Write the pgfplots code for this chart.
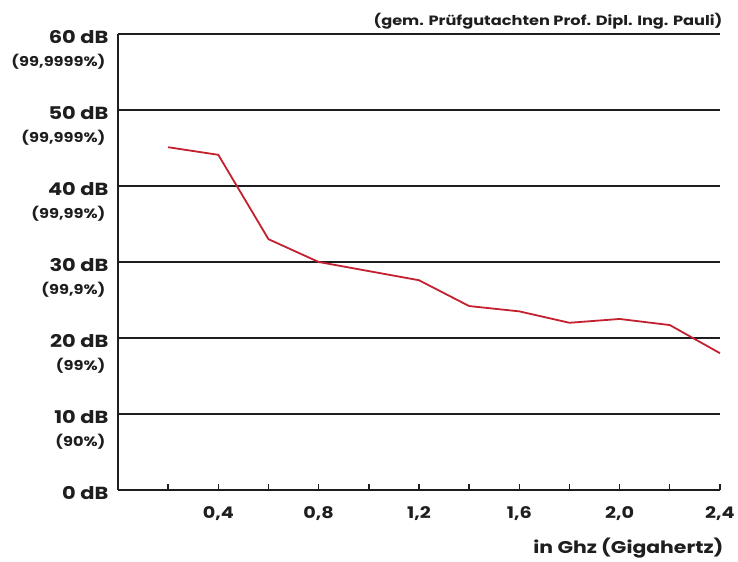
\documentclass[border=0pt]{standalone}
\usepackage{pgfplots}
\pgfplotsset{compat=1.18}
\usepackage{fontspec}
\setmainfont{Poppins}[FakeStretch=1.2]
\definecolor{txt}{RGB}{30,30,30}
\definecolor{curve}{RGB}{195,32,48}
\begin{document}
\begin{tikzpicture}
\begin{axis}[
    at={(0,0)}, anchor=south west,
    scale only axis,
    width=602pt, height=456pt,
    xmin=0, xmax=2.4, ymin=0, ymax=60,
    axis lines=left,
    axis line style={line width=1.6pt, color=txt, -},
    ytick={0,10,...,60},
    yticklabels={0 dB,10 dB,20 dB,30 dB,40 dB,50 dB,60 dB},
    ymajorgrids,
    grid style={line width=1.6pt, color=txt},
    y tick style={draw=none},
    yticklabel style={font=\fontsize{17.5}{17.5}\selectfont\bfseries, color=txt, yshift=-3pt, xshift=-6pt},
    xtick={0.4,0.8,...,2.4},
    xticklabels={0{,}4,0{,}8,1{,}2,1{,}6,2{,}0,2{,}4},
    minor xtick={0.2,0.6,...,2.2},
    tick align=inside,
    major tick length=6pt, minor tick length=6pt,
    x tick style={line width=1.4pt, color=txt},
    xticklabel style={font=\fontsize{16}{16}\selectfont\bfseries, color=txt, yshift=-13pt},
    clip=false,
]
\addplot[color=curve, line width=1.8pt] coordinates {
    (0.2,45.1) (0.4,44.1) (0.6,33.0) (0.8,30.0) (1.0,28.8) (1.2,27.6)
    (1.4,24.2) (1.6,23.5) (1.8,22.0) (2.0,22.5) (2.2,21.7) (2.4,18.0)
};
\node[anchor=east, font=\fontsize{13.5}{13.5}\selectfont\bfseries, color=txt, xshift=-9pt, yshift=-28pt] at (axis cs:0,60) {(99,9999\%)};
\node[anchor=east, font=\fontsize{13.5}{13.5}\selectfont\bfseries, color=txt, xshift=-9pt, yshift=-28pt] at (axis cs:0,50) {(99,999\%)};
\node[anchor=east, font=\fontsize{13.5}{13.5}\selectfont\bfseries, color=txt, xshift=-9pt, yshift=-28pt] at (axis cs:0,40) {(99,99\%)};
\node[anchor=east, font=\fontsize{13.5}{13.5}\selectfont\bfseries, color=txt, xshift=-9pt, yshift=-28pt] at (axis cs:0,30) {(99,9\%)};
\node[anchor=east, font=\fontsize{13.5}{13.5}\selectfont\bfseries, color=txt, xshift=-9pt, yshift=-28pt] at (axis cs:0,20) {(99\%)};
\node[anchor=east, font=\fontsize{13.5}{13.5}\selectfont\bfseries, color=txt, xshift=-9pt, yshift=-28pt] at (axis cs:0,10) {(90\%)};
\node[anchor=base east, font=\fontsize{13.5}{13.5}\selectfont\bfseries, color=txt, yshift=8pt, xshift=6pt] at (rel axis cs:1,1) {(gem. Prüfgutachten Prof. Dipl. Ing. Pauli)};
\node[anchor=base east, font=\fontsize{17}{17}\selectfont\bfseries, color=txt, yshift=-64pt, xshift=7pt] at (rel axis cs:1,0) {in Ghz (Gigahertz)};
\end{axis}
\path[use as bounding box] (-118pt,-72pt) rectangle (620pt,490pt);
\end{tikzpicture}
\end{document}
